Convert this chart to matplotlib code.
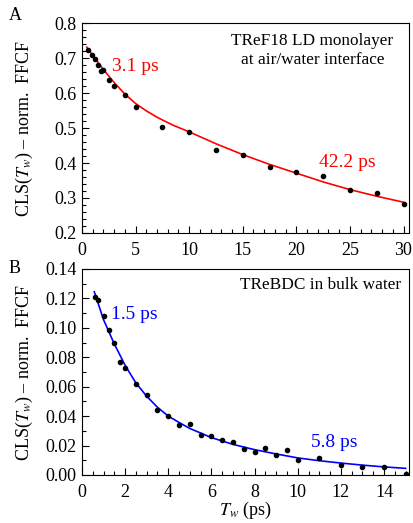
import numpy as np
import matplotlib
matplotlib.use("Agg")
import matplotlib.pyplot as plt
from matplotlib.ticker import MultipleLocator

plt.rcParams['font.family'] = ['Liberation Serif', 'DejaVu Serif']
plt.rcParams['mathtext.fontset'] = 'stix'

# Panel A: TReF18 LD monolayer at air/water interface
tw_a = [0.6, 0.9, 1.2, 1.5, 1.75, 2.0, 2.5, 3.0, 4.0, 5.0, 7.5, 10, 12.5, 15,
        17.5, 20, 22.5, 25, 27.5, 30]
cls_a = [0.724, 0.710, 0.696, 0.679, 0.663, 0.665, 0.637, 0.621, 0.595, 0.560,
         0.502, 0.490, 0.438, 0.423, 0.389, 0.373, 0.363, 0.324, 0.313, 0.283]
fit_tw_a = [0.45, 1, 1.5, 2, 3, 4, 5, 6, 7, 7.5, 8.5, 10, 12.5, 15, 17.5, 20,
            22.5, 25, 27.5, 30]
fit_a = [0.731, 0.708, 0.687, 0.667, 0.630, 0.597, 0.570, 0.549, 0.531, 0.523,
         0.508, 0.489, 0.455, 0.424, 0.396, 0.371, 0.346, 0.324, 0.305, 0.288]

# Panel B: TReBDC in bulk water
tw_b = [0.6, 0.75, 1.0, 1.25, 1.5, 1.75, 2.0, 2.5, 3.0, 3.5, 4.0, 4.5, 5.0, 5.5,
        6.0, 6.5, 7.0, 7.5, 8.0, 8.5, 9.0, 9.5, 10, 11, 12, 13, 14, 15]
cls_b = [0.1212, 0.1190, 0.1080, 0.0985, 0.0899, 0.0770, 0.0725, 0.0615, 0.0542,
         0.0444, 0.0400, 0.0343, 0.0344, 0.0272, 0.0265, 0.0236, 0.0227, 0.0179,
         0.0156, 0.0181, 0.0133, 0.0170, 0.0102, 0.0113, 0.0066, 0.0053, 0.0053,
         0.0005]
fit_tw_b = [0.57, 1.0, 1.5, 2.0, 2.5, 3.0, 3.5, 4.0, 4.5, 5.0, 6.0, 7.0, 8.0, 9.0,
            10, 11, 12, 13, 14, 15]
fit_b = [0.1245, 0.1055, 0.0890, 0.0745, 0.0625, 0.0535, 0.0460, 0.0400, 0.0357,
         0.0316, 0.0254, 0.0208, 0.0172, 0.0143, 0.0116, 0.0097, 0.0081, 0.0067,
         0.0055, 0.0045]

fig = plt.figure(figsize=(4.13, 5.23), dpi=100)
ax1 = fig.add_axes([0.1985, 0.5545, 0.7915, 0.4015])
ax2 = fig.add_axes([0.1985, 0.0918, 0.7915, 0.3939])

ylab = r"CLS($T_w$) – norm.  FFCF"

# --- A ---
ax1.plot(fit_tw_a, fit_a, color='red', lw=1.2, zorder=2)
ax1.plot(tw_a, cls_a, 'o', color='black', ms=3.0, zorder=3)
ax1.set_xlim(0, 30.5)
ax1.set_ylim(0.2, 0.8)
ax1.xaxis.set_major_locator(MultipleLocator(5))
ax1.xaxis.set_minor_locator(MultipleLocator(1))
ax1.yaxis.set_major_locator(MultipleLocator(0.1))
ax1.yaxis.set_minor_locator(MultipleLocator(0.02))
ax1.set_ylabel(ylab, fontsize=13)
ax1.text(2.8, 0.675, "3.1 ps", color='red', fontsize=14, va='center')
ax1.text(22.1, 0.401, "42.2 ps", color='red', fontsize=14, va='center')
ax1.text(0.705, 0.87, "TReF18 LD monolayer\nat air/water interface",
         transform=ax1.transAxes, ha='center', va='center', fontsize=12.4,
         linespacing=1.25)

# --- B ---
ax2.plot(fit_tw_b, fit_b, color='blue', lw=1.2, zorder=2)
ax2.plot(tw_b, cls_b, 'o', color='black', ms=3.0, zorder=3)
ax2.set_xlim(0, 15.15)
ax2.set_ylim(0, 0.14)
ax2.xaxis.set_major_locator(MultipleLocator(2))
ax2.xaxis.set_minor_locator(MultipleLocator(0.5))
ax2.yaxis.set_major_locator(MultipleLocator(0.02))
ax2.yaxis.set_minor_locator(MultipleLocator(0.01))
ax2.yaxis.set_major_formatter(plt.FormatStrFormatter('%.2f'))
ax2.set_ylabel(ylab, fontsize=13)
ax2.set_xlabel(r"$T_w$ (ps)", fontsize=13, labelpad=-1)
ax2.text(1.33, 0.1094, "1.5 ps", color='blue', fontsize=14, va='center')
ax2.text(10.6, 0.0218, "5.8 ps", color='blue', fontsize=14, va='center')
ax2.text(0.975, 0.922, "TReBDC in bulk water", transform=ax2.transAxes,
         ha='right', va='center', fontsize=12.4)

for ax in (ax1, ax2):
    ax.tick_params(which='both', direction='in', top=False, right=False,
                   labelsize=13)
    ax.tick_params(axis='x', pad=6.5)
    ax.tick_params(axis='y', pad=4)
    ax.tick_params(which='major', length=5, width=0.8)
    ax.tick_params(which='minor', length=3, width=0.8)
    for s in ax.spines.values():
        s.set_linewidth(0.8)
    ax.yaxis.set_label_coords(-0.145, 0.5)

fig.text(0.036, 0.97, "A", fontsize=13, va='center', ha='center')
fig.text(0.036, 0.487, "B", fontsize=13, va='center', ha='center')

fig.savefig("out.png", dpi=100)
